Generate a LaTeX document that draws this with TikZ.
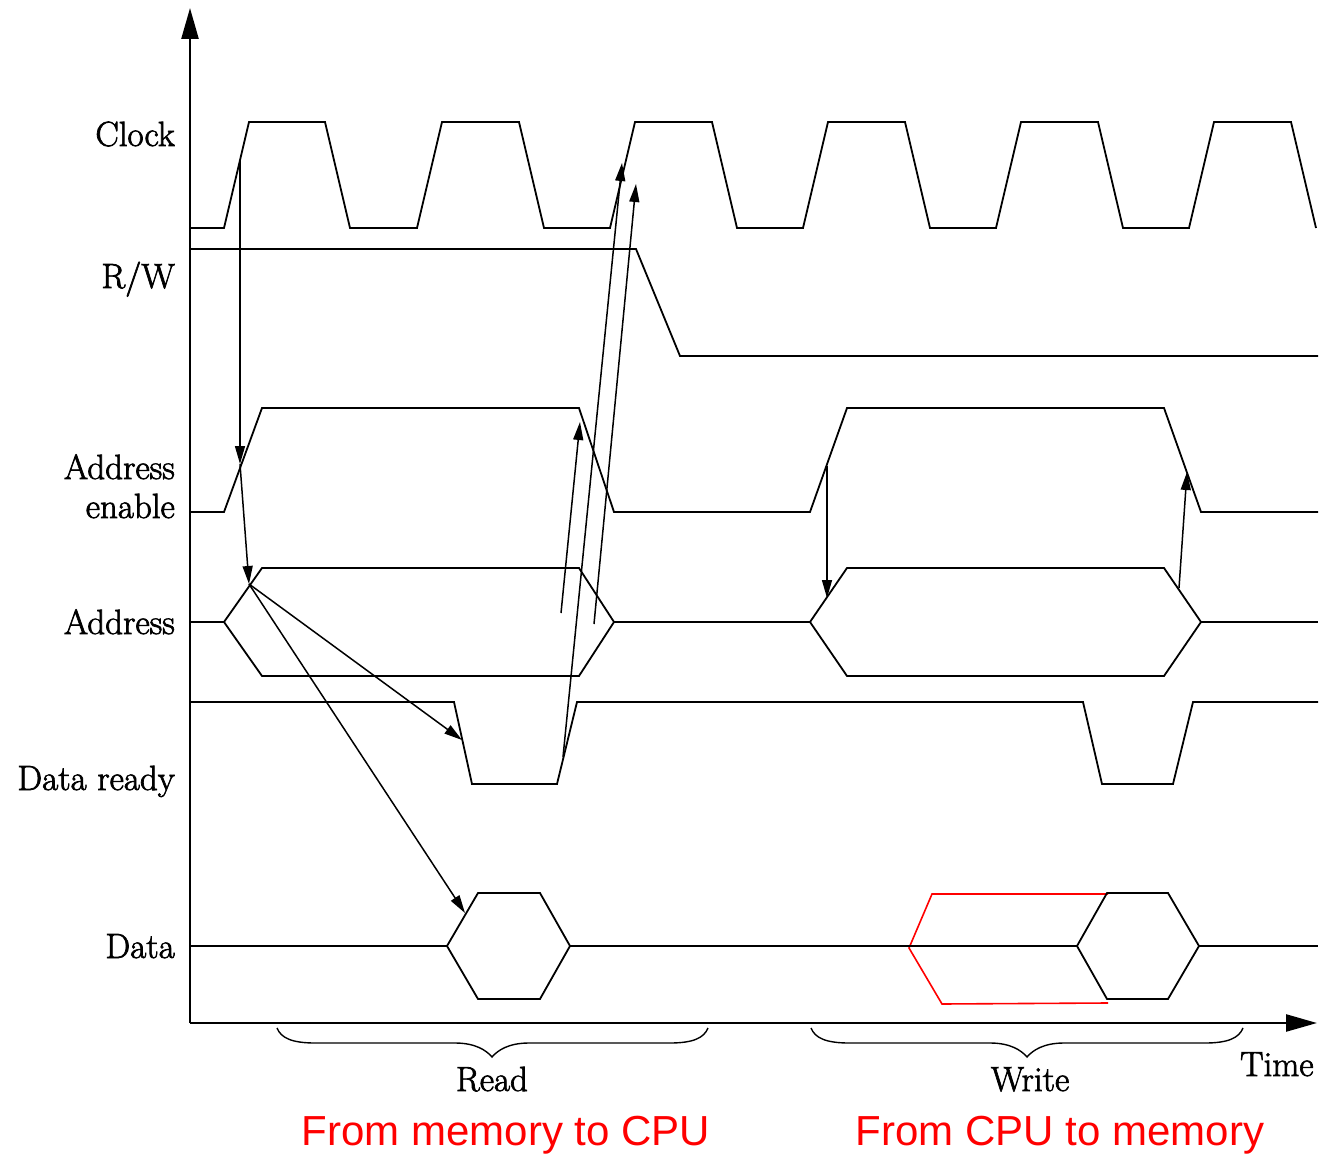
\documentclass[tikz,border=0pt]{standalone}
\usepackage{fontspec}
\newfontfamily\redsans{Liberation Sans}
\newfontfamily\lblfont{Latin Modern Roman}[FakeBold=2]
\usetikzlibrary{arrows.meta}
\begin{document}
\begin{tikzpicture}[x=1pt,y=-1pt,
  sig/.style={line width=1.8pt, line join=miter},
  conn/.style={line width=1.5pt, -{Triangle[length=18pt,width=10pt]}},
  axisline/.style={line width=2.4pt, -{Triangle[length=31pt,width=17pt]}},
  lbl/.style={font=\lblfont\fontsize{35}{38}\selectfont, anchor=base east, inner sep=0pt},
  blbl/.style={font=\lblfont\fontsize{35}{38}\selectfont, anchor=base, inner sep=0pt},
  redlbl/.style={font=\redsans\fontsize{42}{46}\selectfont, text=red, anchor=base, inner sep=0pt},
  bracep/.style={line width=1.4pt}]
\useasboundingbox (0,0) rectangle (1320,1155);

% axes
\coordinate (o) at (190,1023);
\coordinate (ytop) at (190,8);
\coordinate (xend) at (1317,1023);
\draw[axisline] (o) -- (ytop);
\draw[axisline] (o) -- (xend);

% clock
\draw[sig] (190,228) -- (224,228) -- (249,122) -- (325,122) -- (350,228) -- (417,228) -- (442,122) -- (519,122) -- (544,228) -- (610,228) -- (635,122) -- (712,122) -- (737,228) -- (803,228) -- (828,122) -- (905,122) -- (930,228) -- (996,228) -- (1021,122) -- (1098,122) -- (1123,228) -- (1189,228) -- (1214,122) -- (1291,122) -- (1316,228);

% R/W
\draw[sig] (190,249) -- (636,249) -- (680,356) -- (1318,356);

% Address enable
\draw[sig] (190,512) -- (224,512) -- (262,408) -- (579,408) -- (614,512) -- (810,512) -- (847,408) -- (1164,408) -- (1201,512) -- (1318,512);

% Address bus
\draw[sig] (190,622) -- (224,622);
\draw[sig] (224,622) -- (262,568) -- (579,568) -- (614,622) -- (579,676) -- (262,676) -- cycle;
\draw[sig] (614,622) -- (810,622);
\draw[sig] (810,622) -- (847,568) -- (1164,568) -- (1201,622) -- (1164,676) -- (847,676) -- cycle;
\draw[sig] (1201,622) -- (1318,622);

% Data ready
\draw[sig] (190,702) -- (454,702) -- (472,784) -- (557,784) -- (577,702) -- (1083,702) -- (1102,784) -- (1173,784) -- (1193,702) -- (1318,702);

% Data
\draw[red, line width=1.6pt] (1108,894) -- (932,894) -- (909,948) -- (942,1004) -- (1108,1003);
\draw[sig] (190,946) -- (447,946);
\draw[sig] (447,946) -- (478,893) -- (540,893) -- (570,946) -- (540,999) -- (478,999) -- cycle;
\draw[sig] (570,946) -- (1077,946);
\draw[sig] (1077,946) -- (1107,893) -- (1168,893) -- (1199,946) -- (1168,999) -- (1107,999) -- cycle;
\draw[sig] (1199,946) -- (1318,946);

% connector end points
\coordinate (c1) at (240,160);
\coordinate (ae1) at (240,464);
\coordinate (a1) at (249,584);
\coordinate (dr1) at (462,740);
\coordinate (d1) at (465,913);
\coordinate (a2) at (561,613);
\coordinate (ae2) at (580,422);
\coordinate (dr2) at (563,757);
\coordinate (c3) at (622,163);
\coordinate (a3) at (594,624);
\coordinate (c3b) at (636,184);
\coordinate (ae3) at (827,466);
\coordinate (a4) at (827,598);
\coordinate (a5) at (1179,588);
\coordinate (ae4) at (1187,472);

\draw[conn] (c1) -- (ae1);
\draw[conn] (ae1) -- (a1);
\draw[conn] (a1) -- (dr1);
\draw[conn] (a1) -- (d1);
\draw[conn] (a2) -- (ae2);
\draw[conn] (dr2) -- (c3);
\draw[conn] (a3) -- (c3b);
\draw[conn] (ae3) -- (a4);
\draw[conn] (a5) -- (ae4);

% braces
\draw[bracep] (277,1028) .. controls (281,1038) and (292,1043) .. (315,1043) -- (455,1043) .. controls (475,1043) and (486,1050) .. (492,1057) .. controls (498,1050) and (509,1043) .. (529,1043) -- (670,1043) .. controls (693,1043) and (704,1038) .. (708,1028);
\draw[bracep] (811,1028) .. controls (815,1038) and (826,1043) .. (849,1043) -- (990,1043) .. controls (1010,1043) and (1021,1050) .. (1027,1057) .. controls (1033,1050) and (1044,1043) .. (1064,1043) -- (1205,1043) .. controls (1228,1043) and (1239,1038) .. (1243,1028);

% labels
\node[lbl] (lclk) at (175,146) {Clock};
\node[lbl] (lrw) at (175,288) {R/W};
\node[lbl] (lae1) at (175,479) {Address};
\node[lbl] (lae2) at (175,518) {enable};
\node[lbl] (lad) at (175,634) {Address};
\node[lbl] (ldr) at (175,790) {Data ready};
\node[lbl] (ldt) at (175,958) {Data};
\node[blbl] (lrd) at (492,1091) {Read};
\node[blbl] (lwr) at (1030,1091) {Write};
\node[blbl, anchor=base west] (ltm) at (1240,1076) {Time};
\node[redlbl] (lr1) at (506,1145) {From memory to CPU};
\node[redlbl] (lr2) at (1060,1145) {From CPU to memory};
\end{tikzpicture}
\end{document}
